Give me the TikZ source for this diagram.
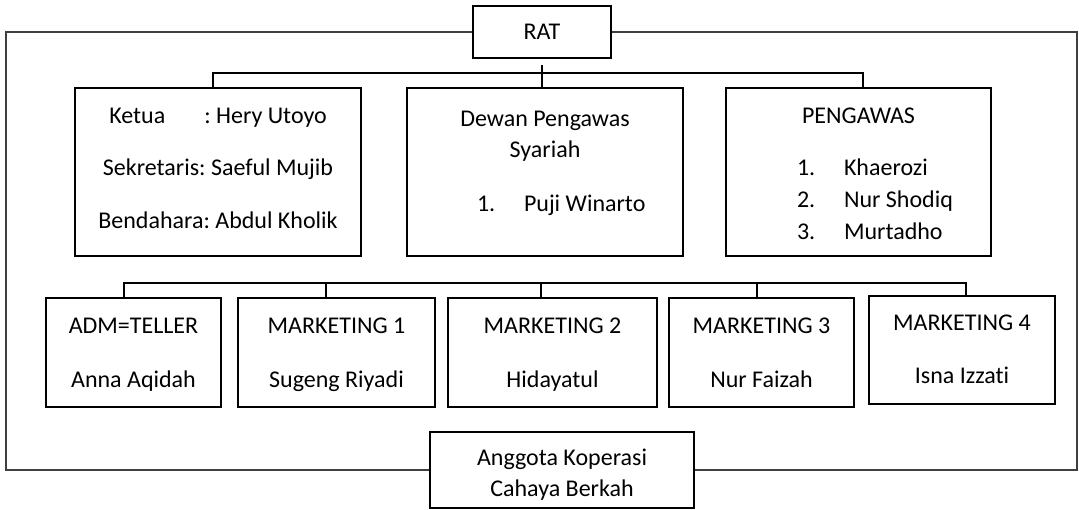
\documentclass[tikz,border=0pt]{standalone}
\usepackage{fontspec}
\setmainfont{Carlito}[Ligatures=NoCommon]
\frenchspacing

% numbered line: box width, number, name
\newcommand\butir[3]{\makebox[#1][l]{\makebox[23.5pt][l]{#2}#3}}
% invisible struts for the first and the last line of a box
\newcommand\atas[1]{\rule{0pt}{#1}}
\newcommand\bawah[1]{\rule[-#1]{0pt}{#1}}

\begin{document}
\begin{tikzpicture}[x=0.5pt,y=-0.5pt,
    kotak/.style={draw,line width=1.3pt,inner sep=0pt,align=center,font=\fontsize{12}{16}\selectfont},
    garis/.style={line width=0.55pt},
    bingkai/.style={line width=0.75pt,black!75}]
    \useasboundingbox (0,0) rectangle (1079,509);
    %\draw[help lines] (0,0) grid[step=50] (1079,509);
    \node[kotak,minimum width=69pt,minimum height=26pt] (rat) at (542,32) {RAT};
    \node[kotak,minimum width=143pt,minimum height=84pt] (pengurus) at (218,172)
        {\atas{11.2pt}Ketua\hspace{19.5pt}: Hery Utoyo\\[10.25pt]Sekretaris: Saeful Mujib\\[10.25pt]Bendahara: Abdul Kholik\bawah{7.7pt}};
    \node[kotak,minimum width=138pt,minimum height=84pt] (dps) at (545,172)
        {\atas{11.2pt}Dewan Pengawas\\[-0.5pt]Syariah\\[11pt]\butir{68pt}{1.}{Puji Winarto}\bawah{14.7pt}};
    \node[kotak,minimum width=132.5pt,minimum height=84pt] (pengawas) at (858.5,172)
        {\atas{11.2pt}PENGAWAS\\[10pt]\butir{61.5pt}{1.}{Khaerozi}\\\butir{61.5pt}{2.}{Nur Shodiq}\\\butir{61.5pt}{3.}{Murtadho}\bawah{2.2pt}};
    \node[kotak,minimum width=87.5pt,minimum height=54.5pt] (adm) at (133.5,352.5)
        {\atas{11.2pt}ADM=TELLER\\[11pt]Anna Aqidah\bawah{3.7pt}};
    \node[kotak,minimum width=98.5pt,minimum height=54.5pt] (mkt1) at (336.5,352.5)
        {\atas{11.2pt}MARKETING 1\\[11pt]Sugeng Riyadi\bawah{3.7pt}};
    \node[kotak,minimum width=104.5pt,minimum height=54.5pt] (mkt2) at (552.5,352.5)
        {\atas{11.2pt}MARKETING 2\\[11pt]Hidayatul\bawah{3.7pt}};
    \node[kotak,minimum width=92.5pt,minimum height=54.5pt] (mkt3) at (761.5,352.5)
        {\atas{11.2pt}MARKETING 3\\[11pt]Nur Faizah\bawah{3.7pt}};
    \node[kotak,minimum width=93pt,minimum height=54pt] (mkt4) at (962,350)
        {\atas{11.2pt}MARKETING 4\\[10.5pt]Isna Izzati\bawah{4.7pt}};
    \node[kotak,minimum width=132pt,minimum height=38pt] (anggota) at (562,470)
        {\atas{14.5pt}Anggota Koperasi\\[-0.5pt]Cahaya Berkah\bawah{4pt}};

    \coordinate (bus1) at (541,73);
    \coordinate (bus2) at (541,283);
    \coordinate (sudutkiri) at (6,470);
    \coordinate (sudutkanan) at (1077,470);

    % RAT ke pengurus, DPS, pengawas
    \draw[garis] ([yshift=-3pt]rat.south) -- (rat.south |- dps.north);
    \draw[garis] ([xshift=-2.5pt]pengurus.north) |- (bus1) -| ([xshift=2.25pt]pengawas.north);
    % baris pelaksana
    \draw[garis] ([xshift=-4.75pt]adm.north) |- (bus2) -| ([xshift=2pt]mkt4.north);
    \foreach \n/\s in {mkt1/-5.25pt,mkt2/-5.75pt,mkt3/-2.25pt}
        \draw[garis] ([xshift=\s]\n.north) -- ([xshift=\s]\n.north |- bus2);
    % garis luar ke anggota
    \draw[bingkai] (rat.west) -| (sudutkiri) -- (anggota.west);
    \draw[bingkai] (rat.east) -| (sudutkanan) -- (anggota.east);
\end{tikzpicture}
\end{document}
